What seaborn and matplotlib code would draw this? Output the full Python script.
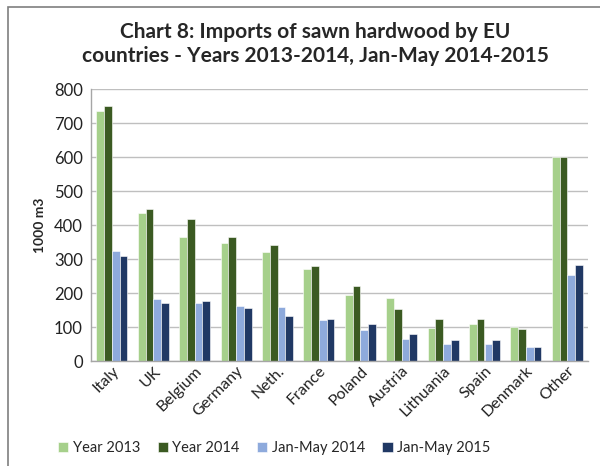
import matplotlib
matplotlib.use("Agg")
import matplotlib.pyplot as plt
import seaborn as sns
import pandas as pd
from matplotlib.patches import Rectangle

countries = ["Italy", "UK", "Belgium", "Germany", "Neth.", "France", "Poland",
             "Austria", "Lithuania", "Spain", "Denmark", "Other"]
year_2013 = [736, 435, 365, 348, 321, 271, 193, 187, 98, 110, 101, 600]
year_2014 = [749, 448, 419, 365, 342, 279, 221, 153, 123, 123, 94, 600]
janmay_2014 = [324, 184, 171, 162, 159, 120, 93, 64, 49, 49, 41, 254]
janmay_2015 = [309, 171, 177, 155, 134, 125, 110, 79, 63, 63, 41, 282]
series_names = ["Year 2013", "Year 2014", "Jan-May 2014", "Jan-May 2015"]
colors = ["#a6d08b", "#3b5a22", "#8eaadc", "#203864"]

df = pd.DataFrame({"country": countries, series_names[0]: year_2013,
                   series_names[1]: year_2014, series_names[2]: janmay_2014,
                   series_names[3]: janmay_2015})
long = df.melt(id_vars="country", var_name="series", value_name="value")

sns.set_theme(style="white")
plt.rcParams["font.family"] = ["Lato", "DejaVu Sans"]

fig = plt.figure(figsize=(6.0, 4.66), dpi=100)
ax = fig.add_axes([0.152, 0.225, 0.828, 0.584])

sns.barplot(data=long, x="country", y="value", hue="series", order=countries,
            hue_order=series_names, palette=colors, width=0.75, ax=ax,
            edgecolor="white", linewidth=0.4, saturation=1, legend=True)

ax.set_ylim(0, 800)
ax.set_xlim(-0.5, len(countries) - 0.5)
ax.set_yticks(range(0, 801, 100))
ax.yaxis.grid(True, color="#bfbfbf", linewidth=1)
ax.set_axisbelow(True)
for s in ["top", "right"]:
    ax.spines[s].set_visible(False)
for s in ["left", "bottom"]:
    ax.spines[s].set_color("#a6a6a6")
    ax.spines[s].set_linewidth(1)

ax.set_xlabel("")
ax.set_ylabel("1000 m3", fontsize=10, fontweight="bold", labelpad=6)
ax.tick_params(axis="y", labelsize=12, length=0, pad=6, labelcolor="#222222")
ax.tick_params(axis="x", which="major", length=0, labelsize=11.5, pad=2,
               labelcolor="#222222")
ax.set_xticks([i + 0.5 for i in range(-1, len(countries))], minor=True)
ax.tick_params(axis="x", which="minor", length=5, color="#a6a6a6", width=1)
plt.setp(ax.get_xticklabels(), rotation=45, ha="right", rotation_mode="anchor")

handles, labels = ax.get_legend_handles_labels()
ax.legend(handles, labels, loc="center", bbox_to_anchor=(0.457, 0.038),
          bbox_transform=fig.transFigure, ncol=4, frameon=False, fontsize=10.5,
          handlelength=0.7, handleheight=0.7, handletextpad=0.3,
          columnspacing=1.2)

fig.text(0.525, 0.905, "Chart 8: Imports of sawn hardwood by EU\ncountries - Years 2013-2014, Jan-May 2014-2015",
         ha="center", va="center", fontsize=15, fontweight="bold",
         linespacing=1.25)

fig.patches.append(Rectangle((0.013, -0.01), 1.0, 0.995, transform=fig.transFigure,
                             fill=False, edgecolor="#7f7f7f", linewidth=1.2))

fig.savefig("out.png", dpi=100)
